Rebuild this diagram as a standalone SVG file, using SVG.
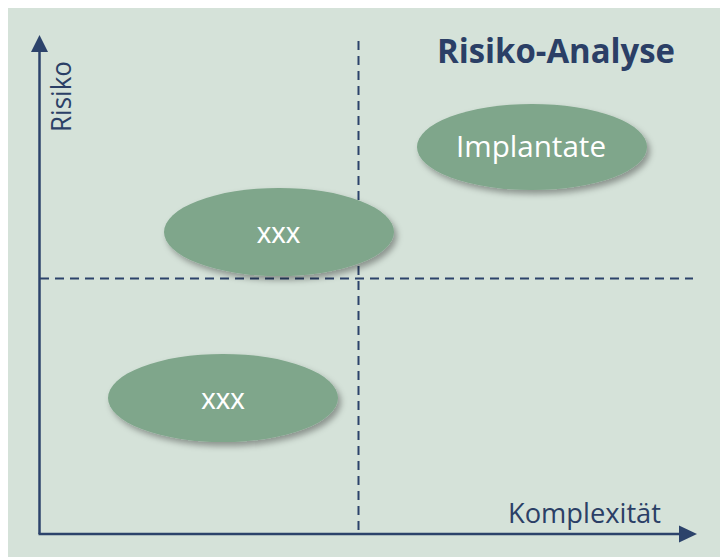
<svg xmlns="http://www.w3.org/2000/svg" width="720" height="557" viewBox="0 0 720 557">
  <style>
    .axis { stroke: #2c436b; stroke-width: 2.5; fill: none; }
    .dash { stroke: #2c436b; stroke-width: 2; stroke-dasharray: 9 6; fill: none; }
    .head { fill: #2c436b; }
    .node { fill: #7fa68b; filter: url(#shadow); }
    .lbl { font-family: "Open Sans", "Liberation Sans", sans-serif; fill: #2b3f66; font-size: 28px; }
    .title { font-family: "Open Sans", "Liberation Sans", sans-serif; fill: #2b3f66; font-size: 34px; font-weight: bold; }
    .ntext { fill: #ffffff; text-anchor: middle; }
    .x { font-family: "Liberation Sans", Arial, sans-serif; font-size: 29px; }
    .imp { font-family: "Open Sans", "Liberation Sans", sans-serif; font-size: 29px; }
  </style>
  <defs>
    <filter id="shadow" x="-20%" y="-30%" width="150%" height="170%">
      <feDropShadow dx="3" dy="4" stdDeviation="3" flood-color="#000000" flood-opacity="0.35"/>
    </filter>
  </defs>
  <rect x="0" y="0" width="720" height="557" fill="#ffffff"/>
  <rect x="8" y="8" width="712" height="549" fill="#d5e2d9"/>

  <g id="connectors">
    <line class="dash" x1="358.5" y1="41" x2="358.5" y2="533"/>
    <line class="dash" x1="40" y1="278.5" x2="693" y2="278.5"/>
    <line class="axis" x1="39.5" y1="50" x2="39.5" y2="534"/>
    <line class="axis" x1="38.5" y1="534" x2="681" y2="534"/>
    <polygon class="head" points="39.5,35 31,52 48,52"/>
    <polygon class="head" points="697,534 679,525.5 679,542.5"/>
  </g>

  <g id="axis-labels">
    <text class="lbl" transform="translate(71,96.5) rotate(-90)" text-anchor="middle" textLength="71" lengthAdjust="spacingAndGlyphs">Risiko</text>
    <text class="lbl" x="508" y="523" textLength="153" lengthAdjust="spacingAndGlyphs">Komplexität</text>
  </g>

  <g id="title">
    <text class="title" x="437" y="63" textLength="238" lengthAdjust="spacingAndGlyphs">Risiko-Analyse</text>
  </g>

  <g id="node-implantate">
    <ellipse class="node" cx="532" cy="147" rx="115" ry="43"/>
    <text class="ntext imp" x="531" y="157" textLength="150" lengthAdjust="spacingAndGlyphs">Implantate</text>
  </g>

  <g id="node-xxx-1">
    <ellipse class="node" cx="279" cy="232" rx="115" ry="44"/>
    <text class="ntext x" x="278.5" y="243">xxx</text>
  </g>

  <g id="node-xxx-2">
    <ellipse class="node" cx="223" cy="398" rx="115" ry="44"/>
    <text class="ntext x" x="223" y="409">xxx</text>
  </g>
</svg>
